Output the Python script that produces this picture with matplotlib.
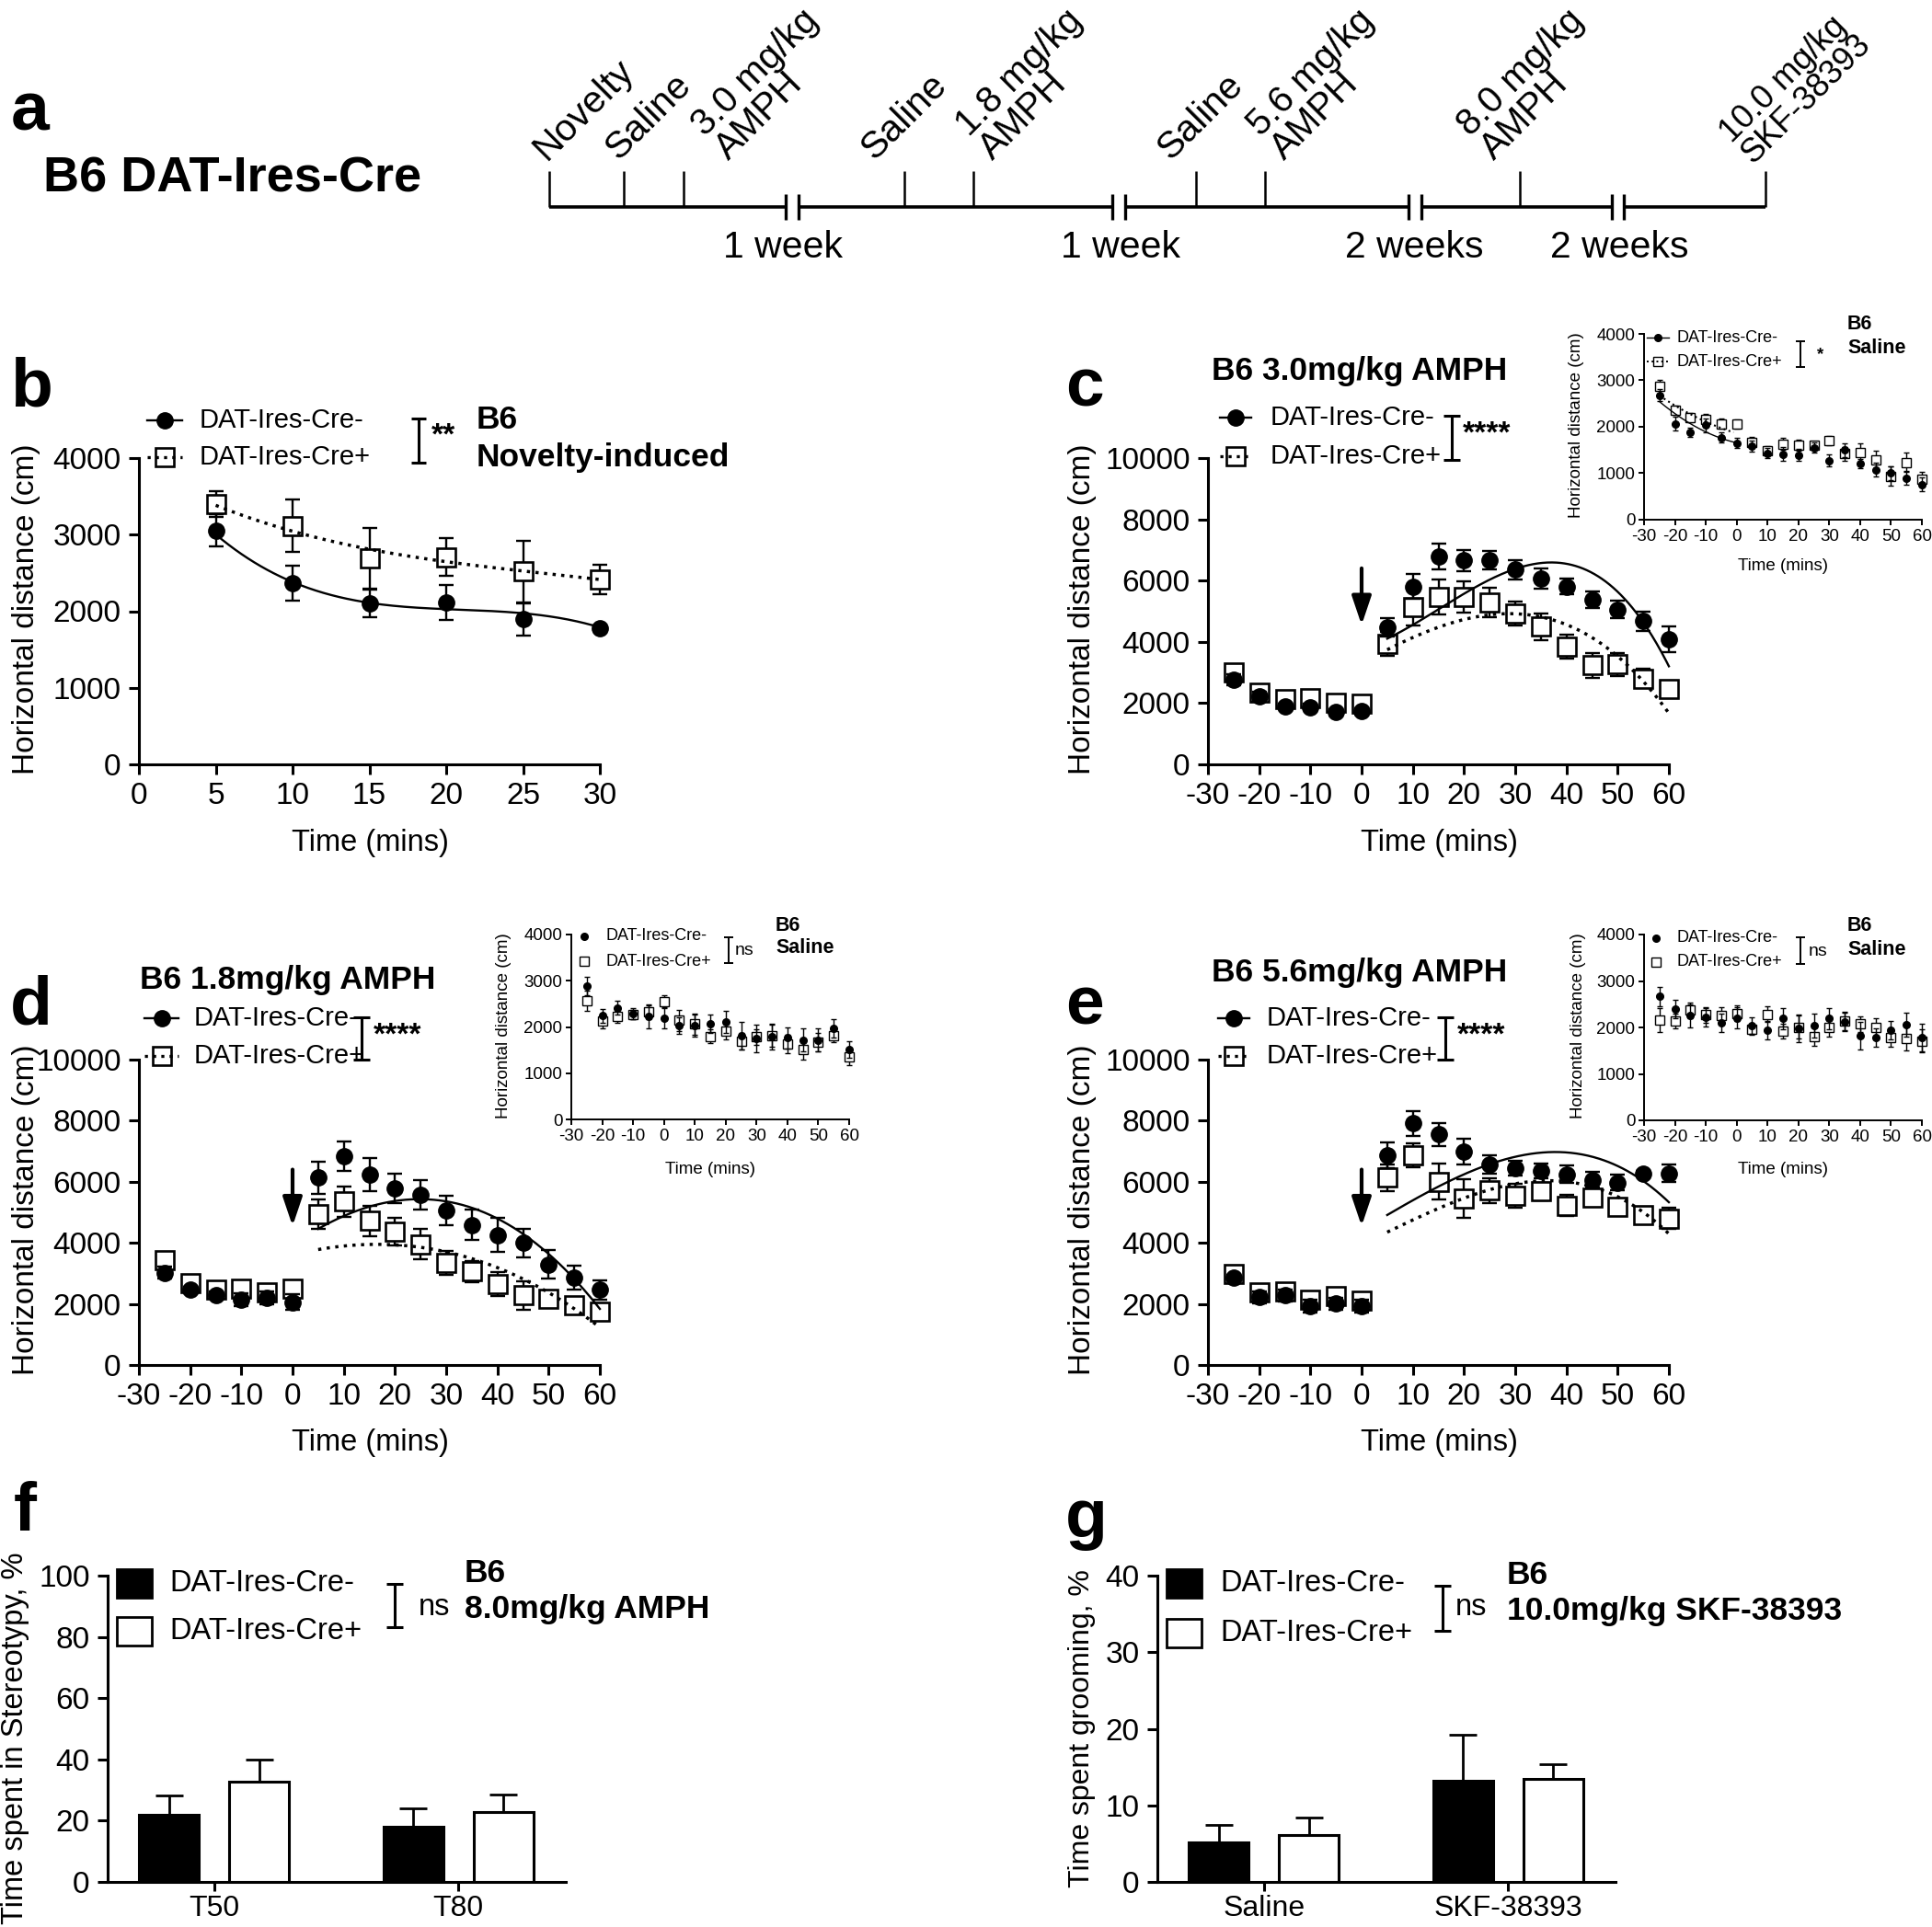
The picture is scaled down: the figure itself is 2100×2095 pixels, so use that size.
import numpy as np
import matplotlib
matplotlib.use('Agg')
import matplotlib.pyplot as plt
from matplotlib.patches import Rectangle

plt.rcParams['font.family'] = ['Liberation Sans', 'DejaVu Sans']
plt.rcParams['axes.unicode_minus'] = False

# ---------------------------------------------------------------- data
timeline_events = ['Novelty', 'Saline', '3.0 mg/kg\nAMPH', 'Saline', '1.8 mg/kg\nAMPH',
                   'Saline', '5.6 mg/kg\nAMPH', '8.0 mg/kg\nAMPH', '10.0 mg/kg\nSKF-38393']
timeline_gaps = ['1 week', '1 week', '2 weeks', '2 weeks']
groups = ['DAT-Ires-Cre-', 'DAT-Ires-Cre+']

# panel b (novelty)
t_nov = [5, 10, 15, 20, 25, 30]
nov_neg = [3056, 2369, 2103, 2112, 1897, 1777]
nov_neg_sem = [215, 225, 180, 230, 210, 40]
nov_pos = [3395, 3112, 2691, 2704, 2519, 2412]
nov_pos_sem = [167, 343, 400, 245, 400, 190]

t_tc = [-25, -20, -15, -10, -5, 0, 5, 10, 15, 20, 25, 30, 35, 40, 45, 50, 55, 60]

# panel c  3.0 mg/kg AMPH
c_neg = [2750, 2216, 1890, 1874, 1700, 1730, 4486, 5803, 6788, 6660, 6660, 6360, 6071, 5803, 5375, 5054, 4679, 4090]
c_neg_sem = [180, 150, 100, 100, 100, 100, 300, 400, 410, 350, 300, 320, 340, 260, 280, 290, 310, 420]
c_pos = [3000, 2330, 2130, 2150, 2020, 1990, 3930, 5128, 5460, 5460, 5289, 4925, 4497, 3854, 3233, 3266, 2805, 2463]
c_pos_sem = [150, 120, 100, 100, 100, 100, 400, 580, 580, 520, 480, 380, 430, 390, 400, 370, 320, 250]
# panel c inset  saline
ci_neg = [2678, 2063, 1884, 2030, 1772, 1653, 1587, 1435, 1408, 1395, 1554, 1269, 1501, 1210, 1078, 1005, 893, 760]
ci_neg_sem = [130, 150, 100, 140, 100, 100, 120, 110, 150, 120, 100, 130, 150, 100, 150, 150, 150, 150]
ci_pos = [2863, 2360, 2202, 2149, 2069, 2063, 1673, 1488, 1633, 1600, 1607, 1699, 1421, 1441, 1289, 939, 1236, 879]
ci_pos_sem = [150, 100, 100, 120, 100, 100, 100, 100, 130, 120, 80, 100, 150, 200, 200, 200, 200, 150]

# panel d  1.8 mg/kg AMPH
d_neg = [3026, 2457, 2296, 2135, 2200, 2060, 6137, 6835, 6223, 5783, 5579, 5064, 4582, 4260, 3991, 3294, 2865, 2457]
d_neg_sem = [200, 100, 100, 200, 200, 250, 520, 490, 540, 490, 490, 490, 500, 560, 470, 460, 400, 310]
d_pos = [3430, 2670, 2470, 2510, 2380, 2510, 4936, 5354, 4721, 4367, 3959, 3348, 3058, 2650, 2275, 2167, 1953, 1738]
d_pos_sem = [150, 100, 100, 100, 100, 100, 490, 500, 500, 460, 500, 390, 350, 390, 470, 250, 170, 150]
di_neg = [2889, 2248, 2413, 2294, 2228, 2195, 2030, 2030, 2063, 2109, 1818, 1745, 1785, 1765, 1719, 1719, 1964, 1521]
di_neg_sem = [200, 150, 150, 120, 250, 230, 170, 230, 200, 230, 300, 300, 280, 230, 250, 250, 200, 180]
di_pos = [2572, 2129, 2228, 2261, 2327, 2539, 2142, 2063, 1798, 1917, 1699, 1785, 1812, 1633, 1521, 1679, 1812, 1355]
di_pos_sem = [220, 150, 130, 100, 150, 140, 230, 230, 150, 180, 180, 170, 230, 200, 230, 200, 150, 180]

# panel e  5.6 mg/kg AMPH
e_neg = [2865, 2221, 2275, 1931, 2006, 1931, 6867, 7908, 7554, 6996, 6567, 6459, 6352, 6245, 6062, 5976, 6266, 6277]
e_neg_sem = [100, 200, 200, 200, 200, 200, 420, 400, 380, 420, 290, 240, 240, 280, 250, 260, 100, 280]
e_pos = [2980, 2380, 2400, 2150, 2250, 2100, 6137, 6867, 6009, 5461, 5708, 5547, 5687, 5225, 5494, 5172, 4903, 4796]
e_pos_sem = [100, 100, 100, 100, 100, 100, 430, 390, 590, 630, 410, 390, 290, 350, 230, 210, 260, 350]
ei_neg = [2664, 2401, 2250, 2217, 2092, 2204, 2039, 1941, 2191, 1974, 2039, 2191, 2125, 1822, 1776, 1941, 2059, 1776]
ei_neg_sem = [200, 200, 250, 200, 200, 230, 170, 200, 230, 300, 250, 230, 200, 300, 200, 200, 250, 300]
ei_pos = [2158, 2138, 2368, 2270, 2257, 2303, 1954, 2283, 1921, 2007, 1796, 2007, 2138, 2072, 2007, 1789, 1763, 1711]
ei_pos_sem = [250, 150, 170, 170, 170, 170, 120, 170, 150, 250, 200, 200, 200, 170, 200, 200, 250, 250]

# fitted curves (time, value)
fit_b_neg_t = [5, 10, 15, 20, 25, 30]
fit_b_neg_y = [3004, 2380, 2110, 2030, 1970, 1790]
fit_b_pos_t = [5, 10, 15, 20, 25, 30]
fit_b_pos_y = [3382, 3047, 2811, 2639, 2532, 2412]
fit_c_neg_t = [5, 15, 25, 35, 45, 55, 60]
fit_c_neg_y = [4110, 5050, 6020, 6610, 6230, 4630, 3210]
fit_c_pos_t = [5, 10, 20, 30, 40, 50, 60]
fit_c_pos_y = [3750, 4140, 4700, 4950, 4570, 3500, 1680]
fit_ci_neg_t = [-25, -20, -15, -10, -5, 0]
fit_ci_neg_y = [2545, 2281, 2063, 1897, 1752, 1653]
fit_ci_pos_t = [-25, -20, -15, -10, -5, -1]
fit_ci_pos_y = [2678, 2446, 2268, 2116, 1983, 1871]
fit_d_neg_t = [5, 15, 25, 35, 45, 55, 60]
fit_d_neg_y = [4470, 5150, 5440, 5190, 4260, 2810, 1850]
fit_d_pos_t = [5, 15, 25, 35, 45, 55, 60]
fit_d_pos_y = [3780, 3940, 3890, 3450, 2800, 1900, 1200]
fit_e_neg_t = [5, 15, 25, 37, 50, 60]
fit_e_neg_y = [4925, 5815, 6570, 7030, 6460, 5350]
fit_e_pos_t = [5, 15, 25, 35, 45, 55, 60]
fit_e_pos_y = [4335, 5170, 5710, 6030, 5815, 5065, 4260]

# panel f / g bars
cats_f = ['T50', 'T80']
f_neg = [22.0, 18.0]
f_neg_sem = [6.1, 6.1]
f_pos = [32.8, 22.7]
f_pos_sem = [7.2, 5.9]
cats_g = ['Saline', 'SKF-38393']
g_neg = [5.2, 13.25]
g_neg_sem = [2.3, 6.0]
g_pos = [6.1, 13.4]
g_pos_sem = [2.3, 2.0]

xticks_tc = [-30, -20, -10, 0, 10, 20, 30, 40, 50, 60]
xticks_nov = [0, 5, 10, 15, 20, 25, 30]

# ---------------------------------------------------------------- layout
W, H = 2100, 2095
fig = plt.figure(figsize=(W / 100, H / 100), dpi=100)
fig.patch.set_facecolor('white')

TICK_FS = 24
LAB_FS = 23.5
LEG_FS = 21
BOLD_FS = 25.5
MS_C, MS_S = 12.5, 14.5


def make_axes(x0, ytop, x1, ybot):
    return fig.add_axes([x0 / W, 1 - ybot / H, (x1 - x0) / W, (ybot - ytop) / H])


def style(ax, lw, tlen, fs, pad):
    for s in ('top', 'right'):
        ax.spines[s].set_visible(False)
    for s in ('left', 'bottom'):
        ax.spines[s].set_linewidth(lw)
    ax.tick_params(axis='both', which='major', width=lw, length=tlen,
                   labelsize=fs, pad=pad, direction='out')
    ax.set_facecolor('none')


def T(x, y, s, size, weight='normal', ha='left', va='center', rot=0, **kw):
    fig.text(x / W, 1 - y / H, s, fontsize=size, fontweight=weight, ha=ha, va=va,
             rotation=rot, **kw)


def errbars(ax, t, y, e, lw, cap, z):
    cont = ax.errorbar(t, y, yerr=e, fmt='none', ecolor='k', elinewidth=lw,
                       capsize=cap, capthick=lw, zorder=z)
    for art in list(cont.lines[1]) + list(cont.lines[2]):
        art.set_clip_on(False)


def series(ax, t, neg, neg_sem, pos, pos_sem, ms_c, ms_s, mew, elw, cap):
    errbars(ax, t, pos, pos_sem, elw, cap, 2)
    ax.plot(t, pos, 's', ms=ms_s, mfc='white', mec='k', mew=mew, zorder=3, clip_on=False)
    errbars(ax, t, neg, neg_sem, elw, cap, 4)
    ax.plot(t, neg, 'o', ms=ms_c, mfc='k', mec='k', zorder=5, clip_on=False)


def fit(ax, tk, yk, deg, dotted, lw):
    c = np.polyfit(tk, yk, deg)
    tt = np.linspace(min(tk), max(tk), 300)
    ls = (0, (1, 1.7)) if dotted else '-'
    ax.plot(tt, np.polyval(c, tt), color='k', lw=lw, linestyle=ls, zorder=6, clip_on=False)


def arrow(ax):
    ax.annotate('', xy=(0, 4550), xytext=(0, 6400),
                arrowprops=dict(arrowstyle='-|>,head_length=0.95,head_width=0.32',
                                lw=3, color='k', shrinkA=0, shrinkB=0,
                                mutation_scale=20))


# overlay for schematic parts and legends (pixel coordinates)
ov = fig.add_axes([0, 0, 1, 1], zorder=20)
ov.set_xlim(0, W)
ov.set_ylim(H, 0)
ov.axis('off')


def bracket(x, y0, y1, w, lw):
    ov.plot([x, x], [y0, y1], color='k', lw=lw, solid_capstyle='butt')
    ov.plot([x - w, x + w], [y0, y0], color='k', lw=lw, solid_capstyle='butt')
    ov.plot([x - w, x + w], [y1, y1], color='k', lw=lw, solid_capstyle='butt')


def leg_pair(x0, x1, y1, y2, tx, fs, ms_c, ms_s, mew, lw, lines=True):
    xc = (x0 + x1) / 2
    if lines:
        ov.plot([x0, x1], [y1, y1], color='k', lw=lw)
    ov.plot([xc], [y1], 'o', ms=ms_c, mfc='k', mec='k')
    ov.plot([xc], [y2], 's', ms=ms_s, mfc='white', mec='k', mew=mew)
    if lines:
        ov.plot([x0, x1], [y2, y2], color='k', lw=lw * 1.4, linestyle=(0, (1, 1.7)))
    T(tx, y1, groups[0], fs)
    T(tx, y2, groups[1], fs)


# ---------------------------------------------------------------- panel a
T(12, 141, 'a', 54, 'bold', va='baseline')
T(47, 194, 'B6 DAT-Ires-Cre', 39, 'bold')
tick_x = [597, 678, 743, 983, 1058, 1300, 1375, 1652, 1919]
label_x = [600, 678, 798, 956, 1085, 1278, 1402, 1630, 1911]
label_y = [181, 181, 181, 181, 181, 181, 181, 181, 185]
label_fs = [29.5, 29.5, 29, 29.5, 29, 29.5, 29, 29, 26]
label_ls = [0.95, 0.95, 0.95, 0.95, 0.95, 0.95, 0.95, 0.95, 0.9]
gap_pairs = [(854, 868), (1209, 1223), (1531, 1545), (1752, 1765)]
gap_label_x = [851, 1218, 1537, 1760]
line_y = 225
segs = [tick_x[0]] + [v for p in gap_pairs for v in p] + [tick_x[-1]]
for i in range(0, len(segs), 2):
    ov.plot([segs[i], segs[i + 1]], [line_y, line_y], color='k', lw=2.6, solid_capstyle='butt')
for a, b in gap_pairs:
    for xx in (a, b):
        ov.plot([xx, xx], [211, 239], color='k', lw=2.4, solid_capstyle='butt')
for xx in tick_x:
    ov.plot([xx, xx], [line_y, 186], color='k', lw=1.8, solid_capstyle='butt')
for lab, lx, ly, fs, lsp in zip(timeline_events, label_x, label_y, label_fs, label_ls):
    fig.text(lx / W, 1 - ly / H, lab, fontsize=fs, rotation=45, rotation_mode='anchor',
             ha='left', va='bottom', multialignment='left', linespacing=lsp)
for lab, gx in zip(timeline_gaps, gap_label_x):
    T(gx, 269, lab, 29.5, ha='center')

# ---------------------------------------------------------------- panel b
axb = make_axes(151, 498, 652, 831)
style(axb, 2.2, 8, TICK_FS, 6)
series(axb, t_nov, nov_neg, nov_neg_sem, nov_pos, nov_pos_sem, MS_C, MS_S, 1.9, 1.7, 6)
fit(axb, fit_b_neg_t, fit_b_neg_y, 3, False, 1.7)
fit(axb, fit_b_pos_t, fit_b_pos_y, 3, True, 2.5)
axb.set_xlim(0, 30)
axb.set_ylim(0, 4000)
axb.set_xticks(xticks_nov)
axb.set_yticks([0, 1000, 2000, 3000, 4000])
T(11, 442, 'b', 54, 'bold', va='baseline')
T(29, 662, 'Horizontal distance (cm)', 24, ha='center', rot=90)
T(402, 916, 'Time (mins)', LAB_FS, ha='center')
leg_pair(160, 198, 457, 497, 217, LEG_FS, MS_C, MS_S, 1.9, 1.7)
bracket(455, 455, 503, 8, 2.2)
T(469, 474, '**', 24, 'bold')
T(518, 457, 'B6', BOLD_FS, 'bold')
T(518, 498, 'Novelty-induced', BOLD_FS, 'bold')

# ---------------------------------------------------------------- panel c
axc = make_axes(1313, 498, 1814, 831)
style(axc, 2.2, 8, TICK_FS, 6)
series(axc, t_tc, c_neg, c_neg_sem, c_pos, c_pos_sem, MS_C, MS_S, 1.9, 1.7, 6)
fit(axc, fit_c_neg_t, fit_c_neg_y, 3, False, 1.7)
fit(axc, fit_c_pos_t, fit_c_pos_y, 3, True, 2.5)
arrow(axc)
axc.set_xlim(-30, 60)
axc.set_ylim(0, 10000)
axc.set_xticks(xticks_tc)
axc.set_yticks([0, 2000, 4000, 6000, 8000, 10000])
T(1158, 442, 'c', 54, 'bold', va='baseline')
T(1176, 662, 'Horizontal distance (cm)', 24, ha='center', rot=90)
T(1564, 916, 'Time (mins)', LAB_FS, ha='center')
T(1317, 403, 'B6 3.0mg/kg AMPH', BOLD_FS, 'bold')
leg_pair(1326, 1360, 454, 496, 1381, LEG_FS, MS_C, MS_S, 1.9, 1.7)
bracket(1578, 452, 500, 9, 2.2)
T(1590, 472, '****', 24, 'bold')

# inset c
axci = make_axes(1787, 363, 2089, 565)
style(axci, 1.4, 4, 13.5, 3)
series(axci, t_tc, ci_neg, ci_neg_sem, ci_pos, ci_pos_sem, 5.5, 6.5, 1.0, 1.0, 2.5)
fit(axci, fit_ci_neg_t, fit_ci_neg_y, 2, False, 1.0)
fit(axci, fit_ci_pos_t, fit_ci_pos_y, 2, True, 1.5)
axci.set_xlim(-30, 60)
axci.set_ylim(0, 4000)
axci.set_xticks(xticks_tc)
axci.set_yticks([0, 1000, 2000, 3000, 4000])
T(1713, 462, 'Horizontal distance (cm)', 13.5, ha='center', rot=90)
T(1938, 615, 'Time (mins)', 13.5, ha='center')
leg_pair(1790, 1814, 367, 393, 1823, 13, 5.5, 6.5, 1.0, 1.0)
bracket(1957, 371, 399, 5, 1.4)
T(1975, 386, '*', 13.5, 'bold')
T(2008, 353, 'B6', 15.5, 'bold')
T(2008, 378, 'Saline', 15.5, 'bold')

# ---------------------------------------------------------------- panel d
axd = make_axes(151, 1152, 652, 1484)
style(axd, 2.2, 8, TICK_FS, 6)
series(axd, t_tc, d_neg, d_neg_sem, d_pos, d_pos_sem, MS_C, MS_S, 1.9, 1.7, 6)
fit(axd, fit_d_neg_t, fit_d_neg_y, 3, False, 1.7)
fit(axd, fit_d_pos_t, fit_d_pos_y, 3, True, 2.5)
arrow(axd)
axd.set_xlim(-30, 60)
axd.set_ylim(0, 10000)
axd.set_xticks(xticks_tc)
axd.set_yticks([0, 2000, 4000, 6000, 8000, 10000])
T(11, 1113, 'd', 54, 'bold', va='baseline')
T(29, 1315, 'Horizontal distance (cm)', 24, ha='center', rot=90)
T(402, 1568, 'Time (mins)', LAB_FS, ha='center')
T(152, 1065, 'B6 1.8mg/kg AMPH', BOLD_FS, 'bold')
leg_pair(157, 194, 1107, 1148, 211, LEG_FS, MS_C, MS_S, 1.9, 1.7)
bracket(393, 1106, 1152, 9, 2.2)
T(406, 1126, '****', 24, 'bold')

axdi = make_axes(621, 1016, 923, 1217)
style(axdi, 1.4, 4, 13.5, 3)
series(axdi, t_tc, di_neg, di_neg_sem, di_pos, di_pos_sem, 5.5, 6.5, 1.0, 1.0, 2.5)
axdi.set_xlim(-30, 60)
axdi.set_ylim(0, 4000)
axdi.set_xticks(xticks_tc)
axdi.set_yticks([0, 1000, 2000, 3000, 4000])
T(548, 1115, 'Horizontal distance (cm)', 13.5, ha='center', rot=90)
T(772, 1271, 'Time (mins)', 13.5, ha='center')
leg_pair(628, 642, 1018, 1045, 658, 13, 5.5, 6.5, 1.0, 1.0, lines=False)
bracket(792, 1019, 1047, 5, 1.4)
T(799, 1033, 'ns', 14)
T(843, 1006, 'B6', 15.5, 'bold')
T(843, 1031, 'Saline', 15.5, 'bold')

# ---------------------------------------------------------------- panel e
axe = make_axes(1313, 1152, 1814, 1484)
style(axe, 2.2, 8, TICK_FS, 6)
series(axe, t_tc, e_neg, e_neg_sem, e_pos, e_pos_sem, MS_C, MS_S, 1.9, 1.7, 6)
fit(axe, fit_e_neg_t, fit_e_neg_y, 3, False, 1.7)
fit(axe, fit_e_pos_t, fit_e_pos_y, 3, True, 2.5)
arrow(axe)
axe.set_xlim(-30, 60)
axe.set_ylim(0, 10000)
axe.set_xticks(xticks_tc)
axe.set_yticks([0, 2000, 4000, 6000, 8000, 10000])
T(1158, 1113, 'e', 54, 'bold', va='baseline')
T(1176, 1315, 'Horizontal distance (cm)', 24, ha='center', rot=90)
T(1564, 1568, 'Time (mins)', LAB_FS, ha='center')
T(1317, 1058, 'B6 5.6mg/kg AMPH', BOLD_FS, 'bold')
leg_pair(1324, 1358, 1107, 1148, 1377, LEG_FS, MS_C, MS_S, 1.9, 1.7)
bracket(1571, 1106, 1152, 9, 2.2)
T(1584, 1126, '****', 24, 'bold')

axei = make_axes(1787, 1016, 2089, 1218)
style(axei, 1.4, 4, 13.5, 3)
series(axei, t_tc, ei_neg, ei_neg_sem, ei_pos, ei_pos_sem, 5.5, 6.5, 1.0, 1.0, 2.5)
axei.set_xlim(-30, 60)
axei.set_ylim(0, 4000)
axei.set_xticks(xticks_tc)
axei.set_yticks([0, 1000, 2000, 3000, 4000])
T(1715, 1115, 'Horizontal distance (cm)', 13.5, ha='center', rot=90)
T(1938, 1272, 'Time (mins)', 13.5, ha='center')
leg_pair(1793, 1807, 1020, 1046, 1823, 13, 5.5, 6.5, 1.0, 1.0, lines=False)
bracket(1957, 1019, 1048, 5, 1.4)
T(1966, 1035, 'ns', 14)
T(2008, 1007, 'B6', 15.5, 'bold')
T(2008, 1032, 'Saline', 15.5, 'bold')


# ---------------------------------------------------------------- bars
def bars(ax, cats, neg, neg_sem, pos, pos_sem):
    x = np.arange(len(cats))
    off, w = 0.185, 0.245
    ax.bar(x - off, neg, w, color='k', edgecolor='k', lw=2.2, zorder=2)
    ax.bar(x + off, pos, w, color='white', edgecolor='k', lw=2.2, zorder=2)
    z = np.zeros(len(cats))
    ax.errorbar(x - off, neg, yerr=[z, neg_sem], fmt='none', ecolor='k', elinewidth=2,
                capsize=11, capthick=2, zorder=3)
    ax.errorbar(x + off, pos, yerr=[z, pos_sem], fmt='none', ecolor='k', elinewidth=2,
                capsize=11, capthick=2, zorder=3)
    ax.set_xticks(x)
    ax.set_xticklabels(cats)
    ax.set_xlim(-0.436, 1.44)
    ax.tick_params(axis='x', labelsize=23, pad=3, length=7)


def bar_legend(px0, px1, rows, tx, fs):
    h = 31
    ov.add_patch(Rectangle((px0, rows[0] - h / 2), px1 - px0, h, facecolor='k', edgecolor='k', lw=2))
    ov.add_patch(Rectangle((px0, rows[1] - h / 2), px1 - px0, h, facecolor='white', edgecolor='k', lw=2))
    T(tx, rows[0], groups[0], fs)
    T(tx, rows[1], groups[1], fs)


axf = make_axes(117, 1713, 615, 2046)
style(axf, 2.2, 8, TICK_FS, 6)
bars(axf, cats_f, f_neg, f_neg_sem, f_pos, f_pos_sem)
axf.set_ylim(0, 100)
axf.set_yticks([0, 20, 40, 60, 80, 100])
T(15, 1664, 'f', 54, 'bold', va='baseline')
T(17, 1890, 'Time spent in Stereotypy, %', 23.5, ha='center', rot=90)
bar_legend(127, 165, (1721, 1773), 184, 23.5)
bracket(429, 1722, 1769, 9, 2.2)
T(455, 1747, 'ns', 23.5)
T(505, 1710, 'B6', BOLD_FS, 'bold')
T(505, 1749, '8.0mg/kg AMPH', BOLD_FS, 'bold')

axg = make_axes(1258, 1713, 1756, 2046)
style(axg, 2.2, 8, TICK_FS, 6)
bars(axg, cats_g, g_neg, g_neg_sem, g_pos, g_pos_sem)
axg.set_ylim(0, 40)
axg.set_yticks([0, 10, 20, 30, 40])
T(1158, 1671, 'g', 54, 'bold', va='baseline')
T(1176, 1879, 'Time spent grooming, %', 23, ha='center', rot=90)
bar_legend(1268, 1306, (1721, 1775), 1326, 23.5)
bracket(1568, 1724, 1773, 9, 2.2)
T(1582, 1747, 'ns', 23.5)
T(1638, 1713, 'B6', BOLD_FS, 'bold')
T(1638, 1752, '10.0mg/kg SKF-38393', BOLD_FS, 'bold')

fig.savefig('out.png', dpi=100, facecolor='white')
